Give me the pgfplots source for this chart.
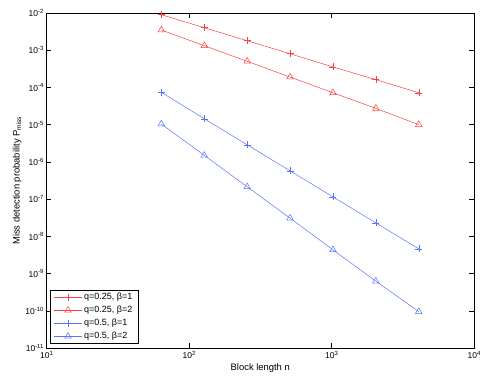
\documentclass[border=0pt]{standalone}
\usepackage{fontspec}
\setmainfont{Liberation Sans}
\usepackage{pgfplots}
\pgfplotsset{compat=1.18}
\definecolor{myred}{rgb}{1,0.25,0.25}
\definecolor{myblue}{rgb}{0.35,0.45,1}
\begin{document}
\fontsize{8.5pt}{10pt}\selectfont
\begin{tikzpicture}
\begin{axis}[
  scale only axis,
  width=427.5pt, height=335pt,
  xmode=log, ymode=log,
  log basis x=10, log basis y=10,
  xmin=10, xmax=10000,
  ymin=1e-11, ymax=1e-2,
  xtick={10,100,1000,10000},
  ytick={1e-11,1e-10,1e-9,1e-8,1e-7,1e-6,1e-5,1e-4,1e-3,1e-2},
  xticklabel={10\raisebox{0.75ex}{\fontsize{6pt}{7pt}\selectfont\pgfmathparse{int(round(\tick))}\pgfmathresult}},
  yticklabel={10\raisebox{0.75ex}{\fontsize{6pt}{7pt}\selectfont\pgfmathparse{int(round(\tick))}\pgfmathresult}},
  tick label style={font=\fontsize{8.5pt}{10pt}\selectfont},
  label style={font=\fontsize{9.4pt}{11pt}\selectfont},
  xlabel={Block length n},
  ylabel={Miss detection probability P\textsubscript{miss}},
  xlabel style={yshift=1pt},
  ylabel style={yshift=-2pt},
  tick align=inside,
  major tick length=5pt, minor tick length=3pt,
  every tick/.style={black, line width=0.4pt},
  axis line style={line width=0.6pt},
  legend style={at={(0.008,0.012)}, anchor=south west, draw=black, line width=0.6pt,
    font=\fontsize{9pt}{10.5pt}\selectfont, inner xsep=3.5pt, inner ysep=1.5pt, row sep=1.2pt},
  legend cell align=left,
  legend image code/.code={\draw[mark repeat=2,mark phase=2,#1] plot coordinates {(0pt,0pt)(14pt,0pt)(28pt,0pt)};},
]
\addplot[myred, line width=0.5pt, mark=+, mark size=3.5pt] coordinates {
(64,9.0e-3) (128,4.03e-3) (256,1.80e-3) (512,8.05e-4) (1024,3.55e-4) (2048,1.62e-4) (4096,7.2e-5)};
\addlegendentry{q=0.25, β=1}
\addplot[myred, line width=0.5pt, mark=triangle, mark size=3.8pt] coordinates {
(64,3.49e-3) (128,1.32e-3) (256,5.04e-4) (512,1.9e-4) (1024,7.2e-5) (2048,2.74e-5) (4096,1.0e-5)};
\addlegendentry{q=0.25, β=2}
\addplot[myblue, line width=0.5pt, mark=+, mark size=3.5pt] coordinates {
(64,7.4e-5) (128,1.44e-5) (256,2.88e-6) (512,5.75e-7) (1024,1.15e-7) (2048,2.3e-8) (4096,4.6e-9)};
\addlegendentry{q=0.5, β=1}
\addplot[myblue, line width=0.5pt, mark=triangle, mark size=3.8pt] coordinates {
(64,1.04e-5) (128,1.5e-6) (256,2.14e-7) (512,3.08e-8) (1024,4.34e-9) (2048,6.25e-10) (4096,9.5e-11)};
\addlegendentry{q=0.5, β=2}
\end{axis}
\path[use as bounding box] ([shift={(-46.5pt,-32pt)}]current axis.south west) rectangle ([shift={(11pt,13pt)}]current axis.north east);
\end{tikzpicture}
\end{document}
